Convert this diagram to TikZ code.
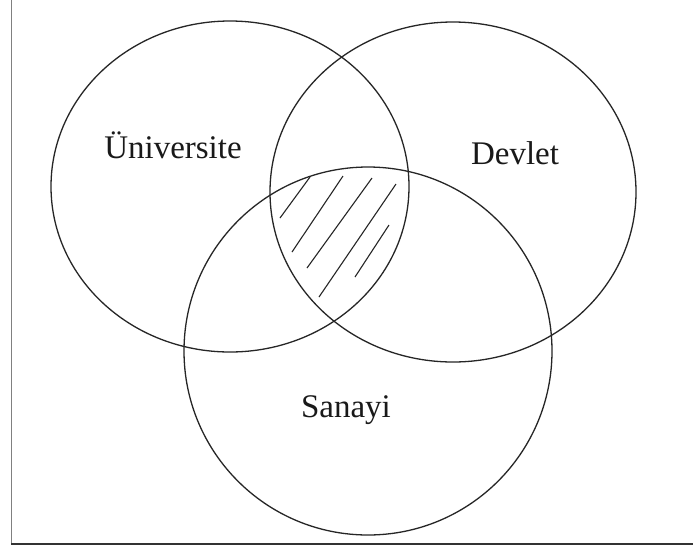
\documentclass[tikz,border=0pt]{standalone}
\usepackage{fontspec}
\setmainfont{Liberation Serif}
\begin{document}
\begin{tikzpicture}[x=1pt,y=-1pt,
  venn/.style={draw=black!85,line width=1.3pt},
  hatch/.style={draw=black!85,line width=1.1pt},
  lbl/.style={font=\fontsize{33}{38}\selectfont,text=black!90,inner sep=0pt}]
\useasboundingbox (0,0) rectangle (693,550);
\fill[white] (0,0) rectangle (693,550);
% frame
\draw[black!50,line width=1pt] (11,0) -- (11,544);
\draw[black!80,line width=1.2pt] (11,544) -- (693,544);
% circles
\draw[venn] (230,186.5) ellipse [x radius=179, y radius=165.5];
\draw[venn] (453,192) ellipse [x radius=183, y radius=170];
\draw[venn] (368,351) ellipse [x radius=184, y radius=184];
% hatching
\draw[hatch] (310,177) -- (280,218);
\draw[hatch] (343,176) -- (292,252);
\draw[hatch] (372,178) -- (307,268);
\draw[hatch] (396,184) -- (319,297);
\draw[hatch] (389,225) -- (355,277);
% labels
\node[lbl] (uni) at (173,145) {Üniversite};
\node[lbl] (dev) at (515,153) {Devlet};
\node[lbl] (san) at (346,410) {Sanayi};
\end{tikzpicture}
\end{document}
